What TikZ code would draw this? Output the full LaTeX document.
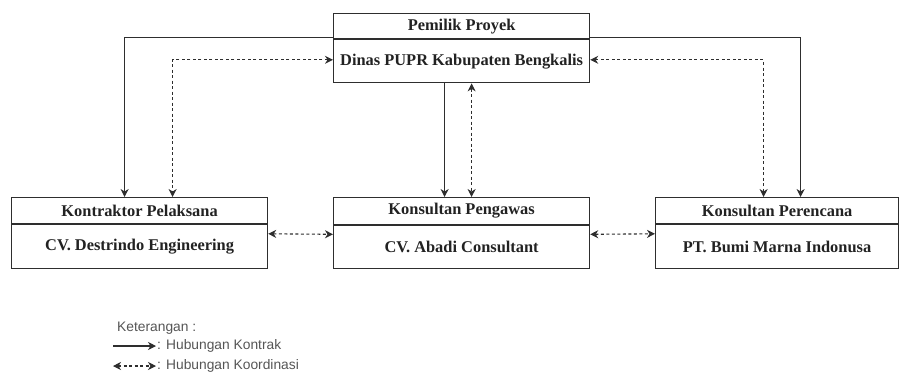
\documentclass[tikz,border=0pt]{standalone}
\usepackage{fontspec}
\setmainfont{Liberation Serif}
\newfontfamily\legfont{Liberation Sans}
\usetikzlibrary{arrows.meta}
\definecolor{ln}{HTML}{2E2E2E}
\definecolor{tx}{HTML}{222222}
\definecolor{lg}{HTML}{555555}
\begin{document}
\begin{tikzpicture}[x=1pt,y=-1pt,
  boxbase/.style={draw=ln,line width=1.2pt,inner sep=0pt,text=tx,
    font=\bfseries\fontsize{16.4}{19}\selectfont,anchor=north west},
  hd/.style={boxbase,minimum height=25pt},
  bd/.style={boxbase,minimum height=43pt},
  con/.style={draw=ln,line width=1.1pt,-{Stealth[length=8pt,width=8pt,inset=2.5pt]}},
  dcon/.style={draw=ln,line width=1.1pt,dash pattern=on 3pt off 2.5pt,
    {Stealth[length=8pt,width=8pt,inset=2.5pt]}-{Stealth[length=8pt,width=8pt,inset=2.5pt]}},
  legtxt/.style={font=\legfont\fontsize{13.8}{16}\selectfont,text=lg,inner sep=1pt,anchor=west}
]
\useasboundingbox (0,0) rectangle (899,373);
% top box
\node[hd,minimum width=256pt] (tophd) at (333,13) {Pemilik Proyek};
\node[bd,minimum width=256pt] (topbd) at (tophd.south west) {Dinas PUPR Kabupaten Bengkalis};
% left box
\node[hd,minimum width=256pt,minimum height=26pt] (lefthd) at (11,197) {Kontraktor Pelaksana};
\node[bd,minimum width=256pt,minimum height=44pt] (leftbd) at (lefthd.south west) {CV. Destrindo Engineering};
% middle box
\node[hd,minimum width=256pt,minimum height=27pt] (midhd) at (333,197) {Konsultan Pengawas};
\node[bd,minimum width=256pt,minimum height=43pt] (midbd) at (midhd.south west) {CV. Abadi Consultant};
% right box
\node[hd,minimum width=243pt,minimum height=26pt] (righthd) at (655,197) {Konsultan Perencana};
\node[bd,minimum width=243pt,minimum height=44pt] (rightbd) at (righthd.south west) {PT. Bumi Marna Indonusa};
% contract lines
\draw[con] ([yshift=2pt]tophd.south west) -| ([xshift=-15pt]lefthd.north);
\draw[con] ([xshift=-17pt]topbd.south) -- ([xshift=-17pt]midhd.north);
\draw[con] ([yshift=2pt]tophd.south east) -| ([xshift=23.5pt]righthd.north);
% coordination lines
\draw[dcon] ([yshift=1.5pt]topbd.west) -| ([xshift=33pt]lefthd.north);
\draw[dcon] ([xshift=10pt]topbd.south) -- ([xshift=10pt]midhd.north);
\draw[dcon] ([yshift=1.5pt]topbd.east) -| ([xshift=-13.5pt]righthd.north);
\draw[dcon] ([yshift=13pt]leftbd.east) -- ([yshift=13pt]midbd.west);
\draw[dcon] ([yshift=13pt]midbd.east) -- ([yshift=13pt]rightbd.west);
% legend
\node[legtxt] (ket) at (116,328) {Keterangan :};
\node[legtxt] (k1) at (156,346) {: Hubungan Kontrak};
\node[legtxt] (k2) at (156,366) {: Hubungan Koordinasi};
\coordinate (l1) at (113,346);
\coordinate (l2) at (113,366);
\draw[con] (l1) -- (k1.west);
\draw[dcon] (l2) -- (k2.west);
\end{tikzpicture}
\end{document}
